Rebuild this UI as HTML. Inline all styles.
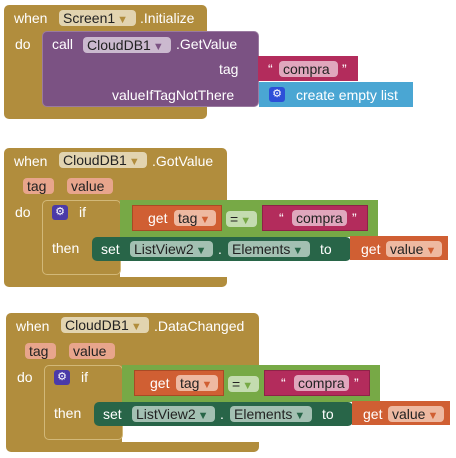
<!DOCTYPE html>
<html><head><meta charset="utf-8"><style>
body{margin:0;width:456px;height:458px;background:#fff;position:relative;overflow:hidden;font-family:"Liberation Sans",sans-serif;font-size:14px;}
div{position:absolute;box-sizing:border-box;}
.t{color:#fff;white-space:nowrap;line-height:16px;height:16px;}
.c{border-radius:4px;color:#222;white-space:nowrap;line-height:16px;height:16px;padding:0 4px;}
.ar{font-size:11px;margin-left:2px;}
</style></head><body>

<!-- Block 1 -->
<div style="left:4px;top:5px;width:203px;height:114px;background:#b18d3d;border-radius:5px;"></div>
<div class="t" style="left:14px;top:10px;">when</div>
<div class="c" style="left:59px;top:10px;width:77px;background:#e2d4b0;">Screen1<span class="ar" style="color:#b18d3d">▼</span></div>
<div class="t" style="left:140px;top:10px;">.Initialize</div>
<div class="t" style="left:15px;top:36px;">do</div>
<div style="left:42px;top:31px;width:217px;height:76px;background:#7b5283;border-radius:5px;border:1px solid #9a7aa0;"></div>
<div class="t" style="left:52px;top:36px;">call</div>
<div class="c" style="left:83px;top:37px;width:88px;background:#cbb9cf;">CloudDB1<span class="ar" style="color:#7b5283">▼</span></div>
<div class="t" style="left:176px;top:36px;">.GetValue</div>
<div class="t" style="left:219px;top:61px;">tag</div>
<div class="t" style="left:112px;top:87px;">valueIfTagNotThere</div>
<div style="left:258px;top:56px;width:100px;height:25px;background:#b32c5c;"></div>
<div class="t" style="left:268px;top:61px;">“</div>
<div class="c" style="left:279px;top:61px;width:59px;background:#e0a7bd;">compra</div>
<div class="t" style="left:342px;top:61px;">”</div>
<div style="left:259px;top:82px;width:154px;height:25px;background:#4aa6d3;"></div>
<div style="left:269px;top:87px;width:16px;height:15px;background:#2d4fd8;border-radius:3px;color:#fff;font-size:11px;text-align:center;line-height:15px;">⚙</div>
<div class="t" style="left:296px;top:87px;">create empty list</div>

<!-- Block 2 -->
<div style="left:4px;top:148px;width:223px;height:139px;background:#b18d3d;border-radius:5px;"></div>
<div style="left:120px;top:261px;width:108px;height:16px;background:#fff;"></div>
<div class="t" style="left:14px;top:153px;">when</div>
<div class="c" style="left:59px;top:152px;width:88px;background:#e2d4b0;">CloudDB1<span class="ar" style="color:#b18d3d">▼</span></div>
<div class="t" style="left:152px;top:153px;">.GotValue</div>
<div class="c" style="left:23px;top:178px;width:31px;background:#e8a58c;">tag</div>
<div class="c" style="left:67px;top:178px;width:46px;background:#e8a58c;">value</div>
<div class="t" style="left:15px;top:204px;">do</div>
<div style="left:42px;top:200px;width:79px;height:75px;background:#b18d3d;border:1px solid #d2b878;border-radius:5px;"></div>
<div style="left:52px;top:205px;width:16px;height:15px;background:#4b3aa8;border-radius:3px;color:#fff;font-size:11px;text-align:center;line-height:15px;">⚙</div>
<div class="t" style="left:79px;top:204px;">if</div>
<div class="t" style="left:52px;top:240px;">then</div>
<div style="left:120px;top:200px;width:258px;height:37px;background:#77a946;"></div>
<div style="left:132px;top:205px;width:90px;height:26px;background:#d05f33;border:1px solid #a84a25;"></div>
<div class="t" style="left:148px;top:210px;">get</div>
<div class="c" style="left:174px;top:210px;width:42px;background:#eeb9a1;">tag<span class="ar" style="color:#d05f33">▼</span></div>
<div class="c" style="left:226px;top:211px;width:31px;background:#c4dcb0;">=<span class="ar" style="color:#77a946">▼</span></div>
<div style="left:262px;top:205px;width:106px;height:26px;background:#b32c5c;border:1px solid #8e2248;"></div>
<div class="t" style="left:279px;top:210px;">“</div>
<div class="c" style="left:292px;top:210px;width:55px;background:#e0a7bd;">compra</div>
<div class="t" style="left:352px;top:210px;">”</div>
<div style="left:92px;top:237px;width:259px;height:24px;background:#286548;border-radius:5px;"></div>
<div class="t" style="left:101px;top:241px;">set</div>
<div class="c" style="left:130px;top:241px;width:83px;background:#a3c0b2;">ListView2<span class="ar" style="color:#286548">▼</span></div>
<div class="t" style="left:218px;top:241px;">.</div>
<div class="c" style="left:228px;top:241px;width:82px;background:#a3c0b2;">Elements<span class="ar" style="color:#286548">▼</span></div>
<div class="t" style="left:320px;top:241px;">to</div>
<div style="left:350px;top:236px;width:98px;height:24px;background:#d05f33;"></div>
<div class="t" style="left:361px;top:241px;">get</div>
<div class="c" style="left:386px;top:241px;width:56px;background:#eeb9a1;">value<span class="ar" style="color:#d05f33">▼</span></div>

<!-- Block 3 -->
<div style="left:6px;top:313px;width:253px;height:139px;background:#b18d3d;border-radius:5px;"></div>
<div style="left:122px;top:426px;width:138px;height:16px;background:#fff;"></div>
<div class="t" style="left:16px;top:318px;">when</div>
<div class="c" style="left:61px;top:317px;width:88px;background:#e2d4b0;">CloudDB1<span class="ar" style="color:#b18d3d">▼</span></div>
<div class="t" style="left:154px;top:318px;">.DataChanged</div>
<div class="c" style="left:25px;top:343px;width:31px;background:#e8a58c;">tag</div>
<div class="c" style="left:69px;top:343px;width:46px;background:#e8a58c;">value</div>
<div class="t" style="left:17px;top:369px;">do</div>
<div style="left:44px;top:365px;width:79px;height:75px;background:#b18d3d;border:1px solid #d2b878;border-radius:5px;"></div>
<div style="left:54px;top:370px;width:16px;height:15px;background:#4b3aa8;border-radius:3px;color:#fff;font-size:11px;text-align:center;line-height:15px;">⚙</div>
<div class="t" style="left:81px;top:369px;">if</div>
<div class="t" style="left:54px;top:405px;">then</div>
<div style="left:122px;top:365px;width:258px;height:37px;background:#77a946;"></div>
<div style="left:134px;top:370px;width:90px;height:26px;background:#d05f33;border:1px solid #a84a25;"></div>
<div class="t" style="left:150px;top:375px;">get</div>
<div class="c" style="left:176px;top:375px;width:42px;background:#eeb9a1;">tag<span class="ar" style="color:#d05f33">▼</span></div>
<div class="c" style="left:228px;top:376px;width:31px;background:#c4dcb0;">=<span class="ar" style="color:#77a946">▼</span></div>
<div style="left:264px;top:370px;width:106px;height:26px;background:#b32c5c;border:1px solid #8e2248;"></div>
<div class="t" style="left:281px;top:375px;">“</div>
<div class="c" style="left:294px;top:375px;width:55px;background:#e0a7bd;">compra</div>
<div class="t" style="left:354px;top:375px;">”</div>
<div style="left:94px;top:402px;width:259px;height:24px;background:#286548;border-radius:5px;"></div>
<div class="t" style="left:103px;top:406px;">set</div>
<div class="c" style="left:132px;top:406px;width:83px;background:#a3c0b2;">ListView2<span class="ar" style="color:#286548">▼</span></div>
<div class="t" style="left:220px;top:406px;">.</div>
<div class="c" style="left:230px;top:406px;width:82px;background:#a3c0b2;">Elements<span class="ar" style="color:#286548">▼</span></div>
<div class="t" style="left:322px;top:406px;">to</div>
<div style="left:352px;top:401px;width:98px;height:24px;background:#d05f33;"></div>
<div class="t" style="left:363px;top:406px;">get</div>
<div class="c" style="left:388px;top:406px;width:56px;background:#eeb9a1;">value<span class="ar" style="color:#d05f33">▼</span></div>

</body></html>
